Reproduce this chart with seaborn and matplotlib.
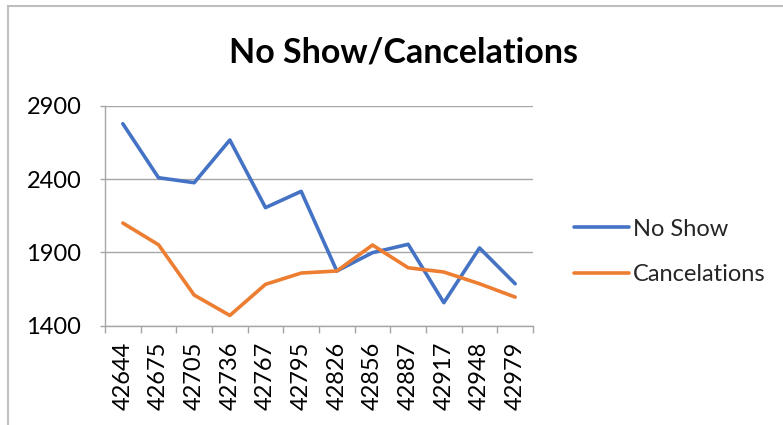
import matplotlib
matplotlib.use("Agg")
import matplotlib.pyplot as plt
import seaborn as sns
import pandas as pd
from matplotlib.patches import Rectangle
from matplotlib.ticker import FixedLocator

categories = ["42644", "42675", "42705", "42736", "42767", "42795",
              "42826", "42856", "42887", "42917", "42948", "42979"]
no_show = [2777, 2409, 2375, 2666, 2205, 2316, 1773, 1898, 1955, 1557, 1930, 1686]
cancelations = [2100, 1952, 1609, 1470, 1682, 1759, 1773, 1950, 1795, 1766, 1686, 1595]
y_ticks = [1400, 1900, 2400, 2900]

sns.set_theme(style="white")
plt.rcParams['font.family'] = ['Lato', 'DejaVu Sans']

df = pd.DataFrame({
    "month": categories * 2,
    "value": no_show + cancelations,
    "series": ["No Show"] * len(categories) + ["Cancelations"] * len(categories),
})

fig = plt.figure(figsize=(7.83, 4.25), dpi=100)
ax = fig.add_axes([105/783, 1 - 325.7/425, (533-105)/783, (325.7-105.7)/425])

sns.lineplot(data=df, x="month", y="value", hue="series", sort=False,
             palette={"No Show": "#4472C4", "Cancelations": "#ED7D31"},
             linewidth=2.6, ax=ax, legend=True)

ax.set_xlim(-0.5, len(categories) - 0.5)
ax.set_ylim(1400, 2900)
ax.set_yticks(y_ticks)
ax.set_yticklabels([str(t) for t in y_ticks])
ax.set_xticks(range(len(categories)))
ax.set_xticklabels(categories, rotation=90)
ax.xaxis.set_minor_locator(FixedLocator([i - 0.5 for i in range(len(categories) + 1)]))
ax.set_xlabel("")
ax.set_ylabel("")

ax.grid(axis="y", color="#a6a6a6", linewidth=1.0)
ax.grid(axis="x", visible=False)
for s in ["top", "right"]:
    ax.spines[s].set_visible(False)
for s in ["left", "bottom"]:
    ax.spines[s].set_color("#a6a6a6")
    ax.spines[s].set_linewidth(1.0)

ax.tick_params(axis="x", which="major", length=0, pad=11.5, labelsize=17, labelcolor="black")
ax.tick_params(axis="x", which="minor", bottom=True, length=5, width=1.0, color="#a6a6a6", direction="out")
ax.tick_params(axis="y", which="major", left=True, length=3.6, width=1.0, color="#a6a6a6",
               pad=13.5, labelsize=17, labelcolor="black", direction="out")

handles, labels = ax.get_legend_handles_labels()
ax.legend_.remove()
fig.legend(handles, labels, loc="center left", bbox_to_anchor=(553/783, 1 - 252/425),
           frameon=False, fontsize=17, handlelength=2.3, handletextpad=0.2,
           labelspacing=1.05)

fig.text(403/783, 1 - 52/425, "No Show/Cancelations", ha="center", va="center",
         fontsize=24.5, fontweight="bold", color="black")

fig.patches.append(Rectangle((8/783, -0.1), 1.2, 1 - 6/425 + 0.1, transform=fig.transFigure,
                             fill=False, edgecolor="#bfbfbf", linewidth=1.5))

fig.savefig("out.png", dpi=100)
